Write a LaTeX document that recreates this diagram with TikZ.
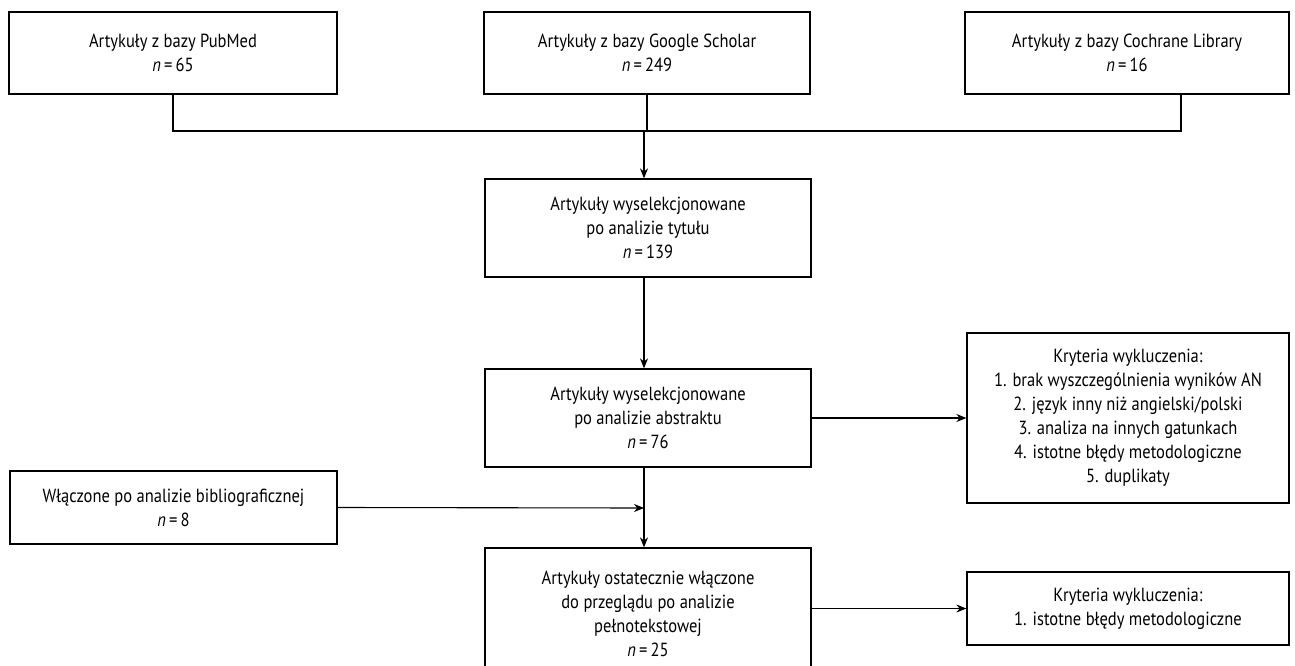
\documentclass[tikz,border=0pt]{standalone}
\usepackage{fontspec}
\setmainfont[FakeStretch=0.87]{PT Sans}
\usetikzlibrary{arrows.meta,calc}
\begin{document}
\begin{tikzpicture}[x=1pt,y=-1pt,
  box/.style={draw, line width=1.3pt, align=center, inner sep=0pt,
    font=\fontsize{19}{24}\selectfont},
  arr/.style={line width=1.1pt, -{Stealth[length=10pt,width=8pt]}},
  ln/.style={line width=1.1pt}]
\useasboundingbox (0,0) rectangle (1295,666);
\newcommand{\nn}[1]{{\itshape n}\,=\,#1}
\node[box, minimum width=328pt, minimum height=82pt] (A) at (173,53) {Artykuły z bazy PubMed\\\nn{65}};
\node[box, minimum width=326pt, minimum height=82pt] (B) at (647,53) {Artykuły z bazy Google Scholar\\\nn{249}};
\node[box, minimum width=324pt, minimum height=82pt] (C) at (1127,53) {Artykuły z bazy Cochrane Library\\\nn{16}};
\node[box, minimum width=326pt, minimum height=98pt] (D) at (648,228) {Artykuły wyselekcjonowane\\po analizie tytułu\\\nn{139}};
\node[box, minimum width=326pt, minimum height=98pt] (E) at (648,418) {Artykuły wyselekcjonowane\\po analizie abstraktu\\\nn{76}};
\node[box, minimum width=322pt, minimum height=170pt] (K1) at (1128,418) {Kryteria wykluczenia:\\1. brak wyszczególnienia wyników AN\\2. język inny niż angielski/polski\\3. analiza na innych gatunkach\\4. istotne błędy metodologiczne\\5. duplikaty};
\node[box, minimum width=327pt, minimum height=73pt] (F) at (173.5,507.5) {Włączone po analizie bibliograficznej\\\nn{8}};
\node[box, minimum width=326pt, minimum height=132pt] (G) at (648,614) {Artykuły ostatecznie włączone\\do przeglądu po analizie\\pełnotekstowej\\\nn{25}};
\node[box, minimum width=322pt, minimum height=73pt] (K2) at (1128,608.5) {Kryteria wykluczenia:\\1. istotne błędy metodologiczne};
\coordinate (m) at (644,131);
\coordinate (j) at (644,508);
\draw[ln] (A.south) |- (m);
\draw[ln] ($(C.south west)!0.666!(C.south east)$) |- (m);
\draw[ln] (m -| B.south) -- (B.south);
\draw[arr] (m) -- (m |- D.north);
\draw[arr] (m |- D.south) -- (m |- E.north);
\draw[arr] (E.east) -- (K1.west);
\draw[ln] (m |- E.south) -- (j);
\draw[arr] (F.east) -- (j);
\draw[arr] (j) -- (m |- G.north);
\draw[arr] (G.east |- K2.west) -- (K2.west);
\end{tikzpicture}
\end{document}
